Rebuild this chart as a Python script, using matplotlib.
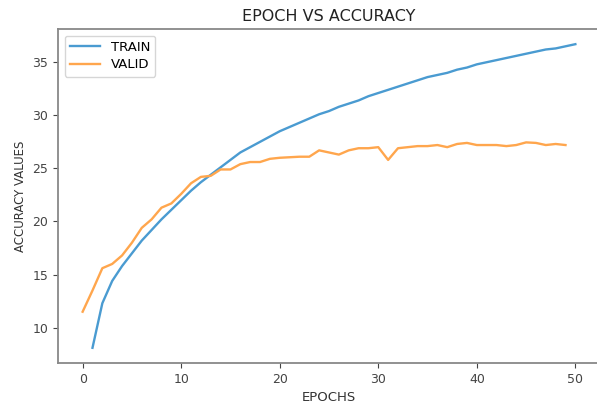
import matplotlib
matplotlib.use("Agg")
import matplotlib.pyplot as plt

train_epochs = list(range(1, 51))
train_acc = [8.1, 12.3, 14.4, 15.8, 17.0, 18.2, 19.2, 20.2, 21.1, 22.0,
             22.9, 23.7, 24.4, 25.1, 25.8, 26.5, 27.0, 27.5, 28.0, 28.5,
             28.9, 29.3, 29.7, 30.1, 30.4, 30.8, 31.1, 31.4, 31.8, 32.1,
             32.4, 32.7, 33.0, 33.3, 33.6, 33.8, 34.0, 34.3, 34.5, 34.8,
             35.0, 35.2, 35.4, 35.6, 35.8, 36.0, 36.2, 36.3, 36.5, 36.7]

valid_epochs = list(range(0, 50))
valid_acc = [11.5, 13.5, 15.6, 16.0, 16.8, 18.0, 19.4, 20.2, 21.3, 21.7,
             22.6, 23.6, 24.2, 24.3, 24.9, 24.9, 25.4, 25.6, 25.6, 25.9,
             26.0, 26.05, 26.1, 26.1, 26.7, 26.5, 26.3, 26.7, 26.9, 26.9,
             27.0, 25.8, 26.9, 27.0, 27.1, 27.1, 27.2, 27.0, 27.3, 27.4,
             27.2, 27.2, 27.2, 27.1, 27.2, 27.45, 27.4, 27.2, 27.3, 27.2]

fig = plt.figure(figsize=(5.97, 4.03), dpi=100)
ax = fig.add_axes([58/597, 40/403, 542/597, 334/403])

ax.plot(train_epochs, train_acc, color='#4a9bd1', lw=1.7, label='TRAIN')
ax.plot(valid_epochs, valid_acc, color='#ffa64d', lw=1.7, label='VALID')

ax.set_title('EPOCH VS ACCURACY', fontsize=11.5, color='#222222')
ax.set_xlabel('EPOCHS', fontsize=9.5, color='#333333')
ax.set_ylabel('ACCURACY VALUES', fontsize=8.5, color='#333333')
ax.tick_params(labelsize=9, colors='#444444')
ax.set_xticks([0, 10, 20, 30, 40, 50])
ax.set_yticks([10, 15, 20, 25, 30, 35])
for s in ax.spines.values():
    s.set_color('#888888')
    s.set_linewidth(1.3)
ax.spines['right'].set_visible(False)

ax.legend(loc='upper left', fontsize=9.5, handlelength=2.3, labelspacing=0.35)

fig.savefig('out.png', dpi=100)
